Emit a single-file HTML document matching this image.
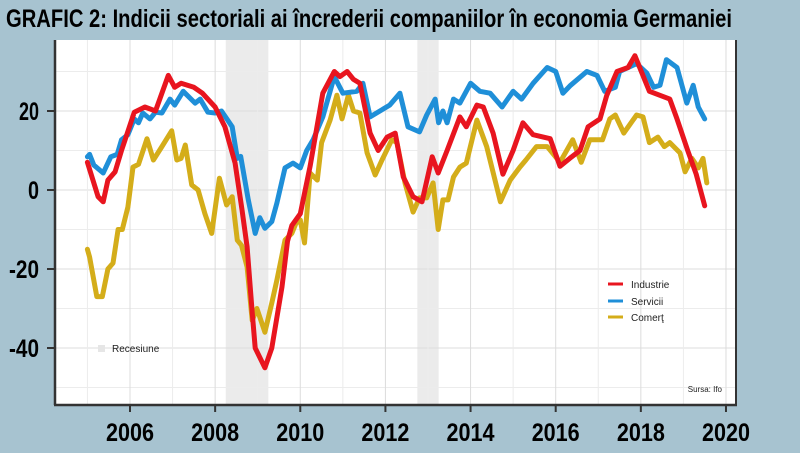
<!DOCTYPE html>
<html><head><meta charset="utf-8"><style>
html,body{margin:0;padding:0;background:#a7c3d0;}
svg{display:block;}
</style></head><body>
<svg width="800" height="453" viewBox="0 0 800 453" xmlns="http://www.w3.org/2000/svg">
<rect x="0" y="0" width="800" height="453" fill="#a7c3d0"/>
<text x="6" y="27" font-family="'Liberation Sans Narrow','Liberation Sans',sans-serif" font-weight="bold" font-size="25" textLength="726" lengthAdjust="spacingAndGlyphs" fill="#000">GRAFIC 2: Indicii sectoriali ai încrederii companiilor în economia Germaniei</text>
<rect x="55" y="40" width="681" height="364" fill="#fff"/>
<g id="rec"></g>
<g id="grid"></g>
<g id="series"></g>
<line x1="736" y1="40" x2="736" y2="405" stroke="#333" stroke-width="2"/>
<line x1="55" y1="40" x2="55" y2="405" stroke="#333" stroke-width="2.5"/>
<line x1="54" y1="405" x2="737" y2="405" stroke="#333" stroke-width="2.5"/>
<g id="axes"></g>
<g font-family="'Liberation Sans',sans-serif" font-size="10" fill="#222">
<line x1="608" y1="284" x2="623" y2="284" stroke="#e8151f" stroke-width="3"/>
<text x="631" y="288">Industrie</text>
<line x1="608" y1="301" x2="623" y2="301" stroke="#1f8fd8" stroke-width="3"/>
<text x="631" y="305">Servicii</text>
<line x1="608" y1="317" x2="623" y2="317" stroke="#d4ad1a" stroke-width="3"/>
<text x="631" y="321">Comerţ</text>
</g>
<rect x="98" y="345" width="7" height="7" fill="#e6e6e6"/>
<text x="112" y="352" font-family="'Liberation Sans',sans-serif" font-size="10" fill="#222">Recesiune</text>
<text x="722" y="392" text-anchor="end" font-family="'Liberation Sans',sans-serif" font-size="8" fill="#222">Sursa: Ifo</text>
</svg>
<script>
const xTicks = [2006, 2008, 2010, 2012, 2014, 2016, 2018, 2020];
const yTicks = [20, 0, -20, -40];
const recessions = [[2008.25, 2009.25], [2012.75, 2013.25]];
const indDates = [2005.0,2005.25,2005.37,2005.48,2005.65,2005.8,2006.1,2006.35,2006.6,2006.9,2007.05,2007.2,2007.5,2007.7,2008.0,2008.23,2008.47,2008.63,2008.75,2008.87,2008.94,2009.17,2009.33,2009.57,2009.7,2009.8,2010.0,2010.23,2010.53,2010.8,2010.93,2011.1,2011.25,2011.4,2011.64,2011.83,2012.04,2012.23,2012.42,2012.65,2012.86,2013.1,2013.24,2013.45,2013.75,2013.9,2014.15,2014.3,2014.53,2014.76,2015.0,2015.23,2015.47,2015.87,2016.1,2016.33,2016.57,2016.76,2017.04,2017.2,2017.44,2017.7,2017.86,2018.2,2018.68,2018.85,2019.1,2019.3,2019.5];
const indVals = [7,-1.7,-3,2.5,4.6,10,19.7,21,20,29,26,27,26,24.5,21,16,6.8,-5,-14.4,-31,-40,-45,-40,-24.5,-13,-9,-6,6,24.5,30,28.7,30,28,27,14.4,10,13.4,14.4,3.3,-1.7,-3,8.4,4.3,10,18.5,16,21.5,21,14.4,4,10,17,14,13,6,8,10,16,18,24,30,31,34,25,23,18,10,4,-4];
const serDates = [2005.0,2005.05,2005.15,2005.37,2005.55,2005.7,2005.8,2005.95,2006.1,2006.2,2006.3,2006.47,2006.6,2006.75,2006.94,2007.05,2007.25,2007.53,2007.65,2007.83,2008.0,2008.15,2008.4,2008.52,2008.6,2008.78,2008.94,2009.05,2009.17,2009.33,2009.45,2009.64,2009.83,2010.0,2010.15,2010.3,2010.53,2010.8,2011.0,2011.33,2011.47,2011.64,2011.87,2012.1,2012.34,2012.53,2012.8,2012.97,2013.17,2013.25,2013.35,2013.45,2013.6,2013.75,2014.0,2014.22,2014.46,2014.74,2015.0,2015.2,2015.47,2015.8,2016.0,2016.17,2016.35,2016.73,2016.97,2017.15,2017.4,2017.5,2017.9,2018.14,2018.3,2018.45,2018.6,2018.85,2019.08,2019.23,2019.35,2019.5];
const serVals = [8.4,9,6.3,4.3,8.4,9,12.7,14,18,17,19.5,18,19.7,19.5,23,21.5,25,22,23,19.7,19.5,20,16,8,8.5,-2.5,-11,-7,-9.7,-8,-3.3,5.6,6.8,5.6,10,12.7,18.5,28.7,24.5,25,27,18.5,20,21.5,24.5,16,14.7,19,23,17,20,17,23,22,27,25,24.5,21,25,23,27,31,30,24.5,26.5,30,29,25,26,30,32,29.6,26,26.5,33,31,22,26.5,21,18];
const comDates = [2005.0,2005.05,2005.22,2005.35,2005.48,2005.6,2005.72,2005.82,2005.95,2006.07,2006.2,2006.4,2006.55,2006.75,2006.98,2007.1,2007.2,2007.3,2007.45,2007.6,2007.76,2007.92,2008.1,2008.27,2008.4,2008.52,2008.62,2008.75,2008.87,2008.98,2009.17,2009.33,2009.45,2009.64,2009.8,2009.9,2010.0,2010.1,2010.23,2010.4,2010.5,2010.7,2010.86,2010.98,2011.13,2011.25,2011.4,2011.57,2011.76,2011.92,2012.15,2012.27,2012.46,2012.65,2012.8,2012.97,2013.12,2013.24,2013.35,2013.47,2013.6,2013.75,2013.9,2014.15,2014.38,2014.7,2014.93,2015.16,2015.3,2015.55,2015.8,2016.1,2016.4,2016.6,2016.8,2017.1,2017.27,2017.4,2017.6,2017.9,2018.05,2018.2,2018.4,2018.55,2018.68,2018.92,2019.04,2019.2,2019.35,2019.46,2019.55];
const comVals = [-15,-17,-27,-27,-20,-18.5,-10,-10,-4.3,5.8,6.5,13,7.6,11,15,7.6,8,11.4,1.3,0,-6,-11,3,-3.8,-1.7,-12.7,-14,-19.5,-33,-30,-36,-28.6,-22.8,-12.7,-11,-8.4,-7.6,-13.4,4.3,2.5,12,17.7,24,18,24,20,19.5,9.4,3.8,7.6,12.7,12,1.8,-5.6,-2,-2,1.8,-10,-2.5,-2.5,3.3,5.8,6.8,17.7,11,-3,2.5,5.8,7.6,11,11,7,12.7,7,12.7,12.7,18,19,14.4,19,18.5,12,13.4,11,12,9.4,4.6,8,5.6,8,1.8];

const NS = 'http://www.w3.org/2000/svg';
const X0 = 130, XPER = 42.57, Y0 = 190, YPER = 3.95;
function xs(t){ return X0 + (t - 2006) * XPER; }
function ys(v){ return Y0 - v * YPER; }
function mk(tag, attrs, parent){ const e = document.createElementNS(NS, tag); for (const k in attrs) e.setAttribute(k, attrs[k]); parent.appendChild(e); return e; }

const rec = document.getElementById('rec');
recessions.forEach(r => {
  const e = mk('rect', {x: xs(r[0]), y: 40, width: xs(r[1]) - xs(r[0]), height: 364, fill: '#ebebeb'}, rec);
  
  
});
const grid = document.getElementById('grid');
for (let v = -50; v <= 30; v += 10) {
  const e = mk('line', {x1: 56, x2: 735, y1: ys(v), y2: ys(v), stroke: v % 20 === 0 ? '#dcdcdc' : '#ececec', 'stroke-width': 1}, grid);
  
  
}
for (let t = 2005; t <= 2020; t++) {
  const e = mk('line', {x1: xs(t), x2: xs(t), y1: 40, y2: 404, stroke: t % 2 === 0 ? '#dcdcdc' : '#ececec', 'stroke-width': 1}, grid);
  
  
}
const series = document.getElementById('series');
function drawLine(dates, vals, color, name){
  const d = dates.map((t, i) => (i ? 'L' : 'M') + xs(t).toFixed(1) + ',' + ys(vals[i]).toFixed(1)).join('');
  const e = mk('path', {d: d, fill: 'none', stroke: color, 'stroke-width': 5, 'stroke-linejoin': 'round', 'stroke-linecap': 'round'}, series);
  
  
}
drawLine(comDates, comVals, '#d4ad1a', 'line-comert');
drawLine(serDates, serVals, '#1f8fd8', 'line-servicii');
drawLine(indDates, indVals, '#e8151f', 'line-industrie');

const axes = document.getElementById('axes');
const fnt = "'Liberation Sans Narrow','Liberation Sans',sans-serif";
yTicks.forEach(v => {
  const t = mk('line', {x1: 47, x2: 55, y1: ys(v), y2: ys(v), stroke: '#333', 'stroke-width': 2}, axes);
  
  
  const s = String(v);
  const w = s.length === 1 ? 11 : (s.length === 2 ? 20 : 30);
  const l = mk('text', {x: 39 - w, y: ys(v) + 9, 'font-family': fnt, 'font-weight': 'bold', 'font-size': 25, textLength: w, lengthAdjust: 'spacingAndGlyphs', fill: '#000'}, axes);
  l.textContent = s;
  
  
});
xTicks.forEach(v => {
  const t = mk('line', {x1: xs(v), x2: xs(v), y1: 405, y2: 412, stroke: '#333', 'stroke-width': 2}, axes);
  
  
  const l = mk('text', {x: xs(v) - 24, y: 441, 'font-family': fnt, 'font-weight': 'bold', 'font-size': 25, textLength: 48, lengthAdjust: 'spacingAndGlyphs', fill: '#000'}, axes);
  l.textContent = String(v);
  
  
});
</script>
</body></html>
